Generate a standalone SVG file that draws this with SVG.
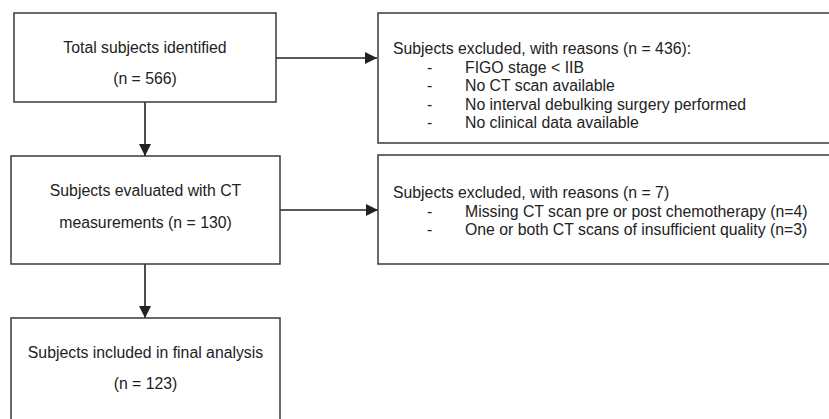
<svg xmlns="http://www.w3.org/2000/svg" width="829" height="419" viewBox="0 0 829 419">
<style>
.box{fill:#fff;stroke:#3a3a3a;stroke-width:1.5}
.edge{fill:none;stroke:#222;stroke-width:1.6}
text{font-family:"Liberation Sans",Arial,sans-serif;font-size:15.8px;fill:#222}
.c{text-anchor:middle}
</style>
<defs>
<marker id="arr" viewBox="0 0 12 12" refX="12" refY="6" markerWidth="12" markerHeight="12" markerUnits="userSpaceOnUse" orient="auto">
<path d="M0,0 L12,6 L0,12 Z" fill="#222"/>
</marker>
</defs>
<rect width="829" height="419" fill="#fff"/>
<g id="connectors">
<line class="edge" x1="276" y1="58" x2="377" y2="58" marker-end="url(#arr)"/>
<line class="edge" x1="145" y1="102" x2="145" y2="156" marker-end="url(#arr)"/>
<line class="edge" x1="280" y1="210" x2="378" y2="210" marker-end="url(#arr)"/>
<line class="edge" x1="145" y1="264" x2="145" y2="318" marker-end="url(#arr)"/>
</g>
<g id="total">
<rect class="box" x="14" y="13" width="262" height="89"/>
<text class="c" x="145" y="53">Total subjects identified</text>
<text class="c" x="145" y="84">(n = 566)</text>
</g>
<g id="excluded1">
<rect class="box" x="378" y="13" width="460" height="130"/>
<text x="393" y="54">Subjects excluded, with reasons (n = 436):</text>
<text x="427" y="73">-</text><text x="465" y="73">FIGO stage &lt; IIB</text>
<text x="427" y="91">-</text><text x="465" y="91">No CT scan available</text>
<text x="427" y="110">-</text><text x="465" y="110">No interval debulking surgery performed</text>
<text x="427" y="128">-</text><text x="465" y="128">No clinical data available</text>
</g>
<g id="evaluated">
<rect class="box" x="11" y="156" width="269" height="108"/>
<text class="c" x="145.5" y="196">Subjects evaluated with CT</text>
<text class="c" x="145.5" y="228">measurements (n = 130)</text>
</g>
<g id="excluded2">
<rect class="box" x="378" y="155" width="460" height="109"/>
<text x="393" y="198">Subjects excluded, with reasons (n = 7)</text>
<text x="427" y="217">-</text><text x="465" y="217">Missing CT scan pre or post chemotherapy (n=4)</text>
<text x="427" y="235">-</text><text x="465" y="235">One or both CT scans of insufficient quality (n=3)</text>
</g>
<g id="included">
<rect class="box" x="11" y="318" width="269" height="110"/>
<text class="c" x="145.5" y="358">Subjects included in final analysis</text>
<text class="c" x="145.5" y="389">(n = 123)</text>
</g>
</svg>
